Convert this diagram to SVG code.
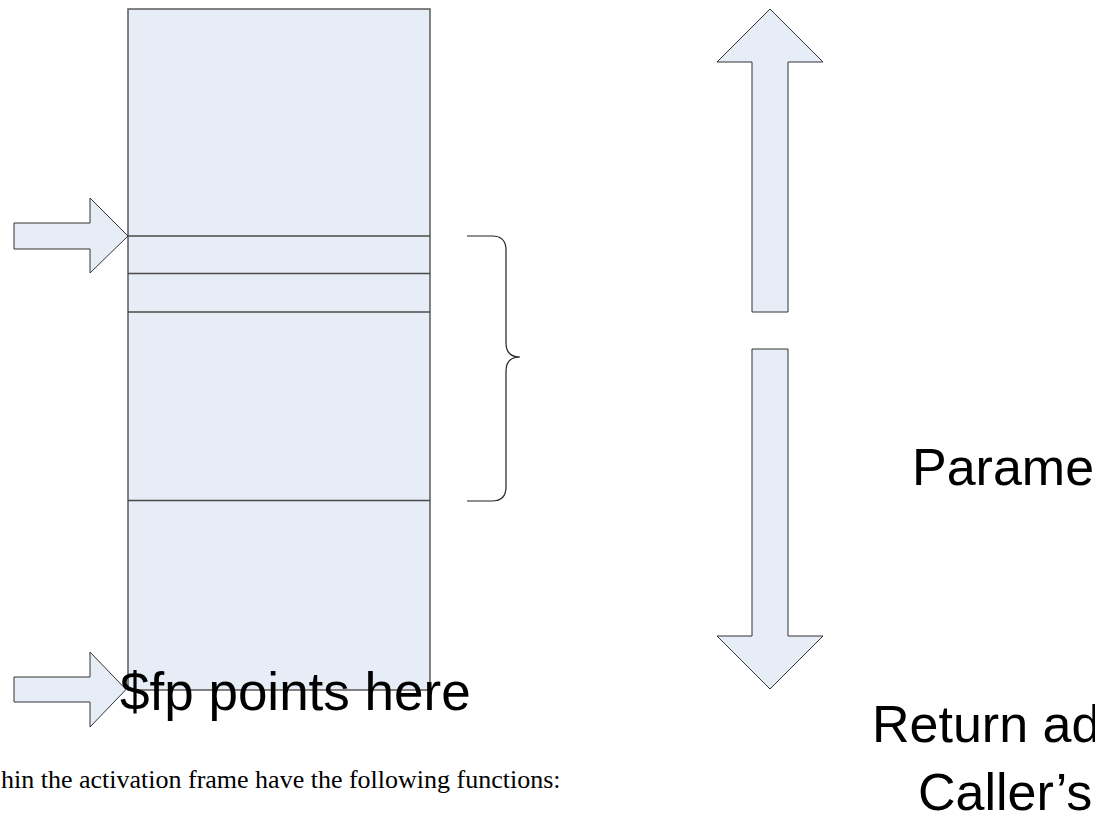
<svg xmlns="http://www.w3.org/2000/svg" width="1095" height="829" viewBox="0 0 1095 829">
<style>
.shape{fill:#E6EDF7;stroke:#5a5a5a;stroke-width:1.5}
.arrow{fill:#E6EDF7;stroke:#333;stroke-width:1}
.div{stroke:#4a4a4a;stroke-width:1.5}
.big{font-family:"Liberation Sans",Arial,sans-serif;font-size:52px;fill:#000}
.body{font-family:"Liberation Serif","Times New Roman",serif;font-size:26px;fill:#000}
</style>
<rect width="1095" height="829" fill="#fff"/>
<g id="frame">
<rect class="shape" x="128" y="9" width="302" height="681"/>
<line class="div" x1="128" y1="236" x2="430" y2="236"/>
<line class="div" x1="128" y1="273.5" x2="430" y2="273.5"/>
<line class="div" x1="128" y1="312" x2="430" y2="312"/>
<line class="div" x1="128" y1="500.5" x2="430" y2="500.5"/>
</g>
<g id="arrow-top-left">
<polygon class="arrow" points="14,223 90,223 90,198 128,236 90,273 90,249 14,249"/>
</g>
<g id="arrow-fp">
<polygon class="arrow" points="14,677 90,677 90,652 126,689.5 90,727 90,702 14,702"/>
</g>
<g id="label-fp">
<text class="big" x="120" y="710" style="font-size:53px">$fp points here</text>
</g>
<g id="brace">
<path d="M467,236 H492 Q506,236 506,250 V343 Q506,357 520,357 Q506,357 506,371 V487 Q506,501 492,501 H467" fill="none" stroke="#222" stroke-width="1.2"/>
</g>
<g id="arrow-up">
<polygon class="arrow" points="770,9 823,62 788,62 788,312 752,312 752,62 717,62"/>
</g>
<g id="arrow-down">
<polygon class="arrow" points="752,349 788,349 788,636 823,636 770,689 717,636 752,636"/>
</g>
<g id="labels-right">
<text class="big" x="912" y="485">Parame</text>
<text class="big" x="872" y="742">Return ad</text>
<text class="big" x="918" y="810">Caller’s</text>
</g>
<g id="body-text">
<text class="body" x="1" y="788">hin the activation frame have the following functions:</text>
</g>
</svg>
